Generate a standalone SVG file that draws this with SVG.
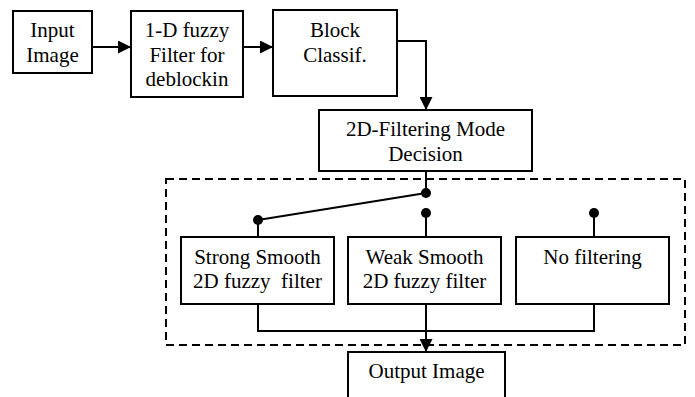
<svg xmlns="http://www.w3.org/2000/svg" width="695" height="397" viewBox="0 0 695 397">
<style>
.box{fill:#fff;stroke:#000;stroke-width:2}
.t{font-family:"Liberation Serif","Times New Roman",serif;font-size:21px;text-anchor:middle;fill:#000}
.ln{fill:none;stroke:#000;stroke-width:2}
.dot{fill:#000}
</style>
<defs>
<marker id="ah" markerWidth="13" markerHeight="13" refX="13" refY="6.5" orient="auto" markerUnits="userSpaceOnUse">
<path d="M0,0 L13,6.5 L0,13 Z" fill="#000"/>
</marker>
</defs>
<rect width="695" height="397" fill="#fff"/>
<g id="dashed">
<rect x="166" y="179" width="519" height="166" fill="none" stroke="#000" stroke-width="2" stroke-dasharray="8,5"/>
</g>
<g id="connectors">
<line class="ln" x1="92" y1="47" x2="131" y2="47" marker-end="url(#ah)"/>
<line class="ln" x1="243" y1="47" x2="273" y2="47" marker-end="url(#ah)"/>
<polyline class="ln" points="395,41 426,41 426,110" marker-end="url(#ah)"/>
<line class="ln" x1="426" y1="171" x2="426" y2="193"/>
<line class="ln" x1="426" y1="193" x2="258" y2="220"/>
<line class="ln" x1="258" y1="220" x2="258" y2="237"/>
<line class="ln" x1="426" y1="213" x2="426" y2="237"/>
<line class="ln" x1="594" y1="213" x2="594" y2="237"/>
<polyline class="ln" points="258,304 258,331 594,331 594,304"/>
<line class="ln" x1="426" y1="304" x2="426" y2="352" marker-end="url(#ah)"/>
<circle class="dot" cx="426" cy="193" r="5"/>
<circle class="dot" cx="258" cy="220" r="5"/>
<circle class="dot" cx="426" cy="213" r="5"/>
<circle class="dot" cx="594" cy="213" r="5"/>
</g>
<g id="input">
<rect class="box" x="13" y="11" width="79" height="62"/>
<text class="t" x="52.5" y="37">Input</text>
<text class="t" x="52.5" y="62">Image</text>
</g>
<g id="fuzzy1d">
<rect class="box" x="131" y="11" width="112" height="86"/>
<text class="t" x="187" y="37">1-D fuzzy</text>
<text class="t" x="187" y="62">Filter for</text>
<text class="t" x="187" y="86">deblockin</text>
</g>
<g id="block">
<rect class="box" x="273" y="10" width="124" height="86"/>
<text class="t" x="335" y="37">Block</text>
<text class="t" x="335" y="62">Classif.</text>
</g>
<g id="mode">
<rect class="box" x="319" y="110" width="213" height="61"/>
<text class="t" x="425.5" y="136">2D-Filtering Mode</text>
<text class="t" x="425.5" y="161">Decision</text>
</g>
<g id="strong">
<rect class="box" x="181" y="237" width="153" height="67"/>
<text class="t" x="257.5" y="264">Strong Smooth</text>
<text class="t" x="257.5" y="288" xml:space="preserve" style="white-space:pre">2D fuzzy  filter</text>
</g>
<g id="weak">
<rect class="box" x="348" y="237" width="153" height="67"/>
<text class="t" x="424.5" y="264">Weak Smooth</text>
<text class="t" x="424.5" y="288">2D fuzzy filter</text>
</g>
<g id="nofilter">
<rect class="box" x="516" y="237" width="153" height="67"/>
<text class="t" x="592.5" y="264">No filtering</text>
</g>
<g id="output">
<rect class="box" x="348" y="352" width="157" height="60"/>
<text class="t" x="426.5" y="378">Output Image</text>
</g>
</svg>
